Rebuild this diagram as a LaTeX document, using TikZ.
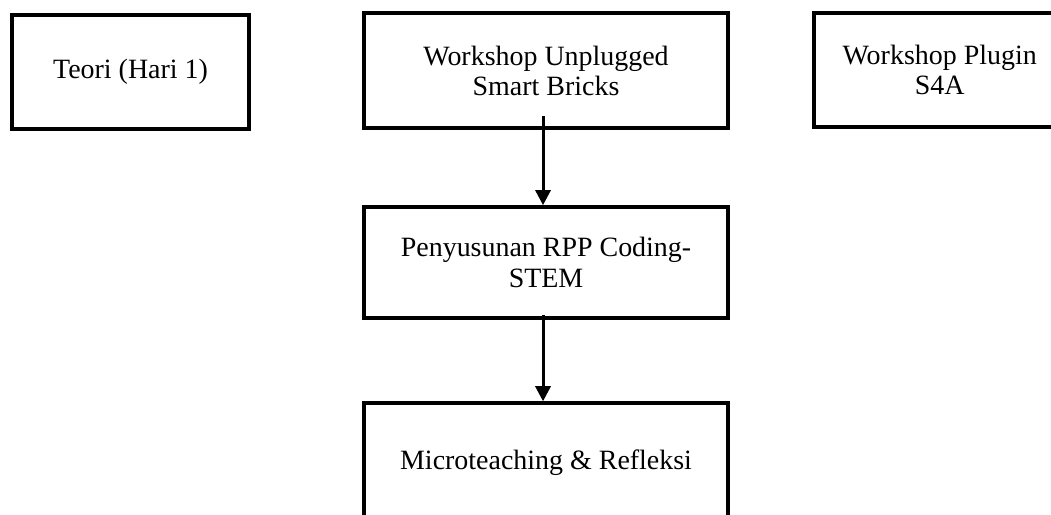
\documentclass[tikz,border=0pt]{standalone}
\usepackage{fontspec}
\setmainfont{Liberation Serif}
\usetikzlibrary{arrows.meta}

\begin{document}
\begin{tikzpicture}[
  kotak/.style={draw=black, line width=1.5pt, align=center, inner sep=0pt,
    minimum height=1.72cm, font=\fontsize{12}{12.9}\selectfont},
  panah/.style={line width=1.3pt, -{Triangle[length=6.5pt,width=6.5pt]}}
]
\clip (0,0) rectangle (15.86,-7.77);
\useasboundingbox (0,0) rectangle (15.86,-7.77);

\node[kotak, minimum width=3.58cm] (teori) at (1.97,-1.09) {Teori (Hari 1)};
\node[kotak, minimum width=5.49cm, minimum height=1.735cm] (unplugged) at (8.24,-1.064) {Workshop Unplugged\\Smart Bricks};
\node[kotak, minimum width=3.80cm] (plugin) at (14.18,-1.056) {Workshop Plugin\\S4A};

\node[kotak, minimum width=5.49cm, minimum height=1.675cm] (rpp) at (8.24,-3.96) {Penyusunan RPP Coding-\\STEM};
\node[kotak, minimum width=5.49cm, minimum height=1.81cm] (micro) at (8.24,-6.987) {Microteaching \& Refleksi};

\draw[panah] ([xshift=-1.3pt,yshift=6pt]unplugged.south) -- ([xshift=-1.3pt]rpp.north);
\draw[panah] ([xshift=-1.3pt,yshift=2pt]rpp.south) -- ([xshift=-1.3pt]micro.north);
\end{tikzpicture}
\end{document}
